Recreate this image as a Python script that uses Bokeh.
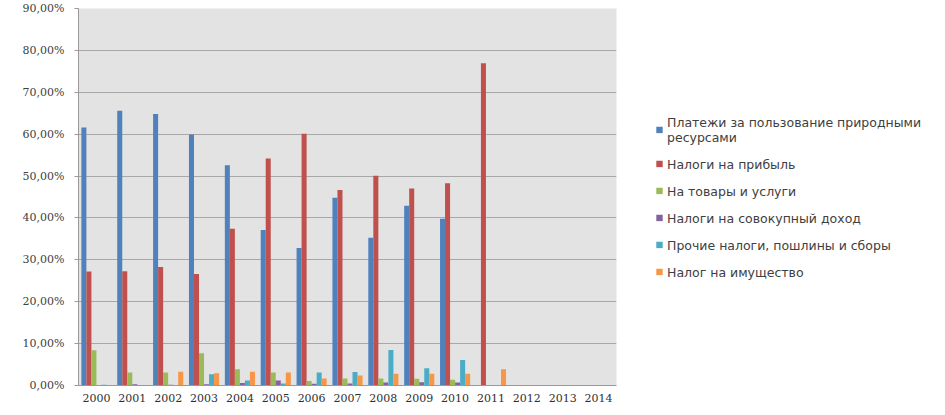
from bokeh.plotting import figure
from bokeh.models import FactorRange, Range1d, FixedTicker, Legend, LegendItem, ColumnDataSource
from bokeh.transform import dodge
from bokeh.embed import file_html
from bokeh.resources import INLINE

years = [str(y) for y in range(2000, 2015)]

series_names = [
    "Платежи за пользование природными\nресурсами",
    "Налоги на прибыль",
    "На товары и услуги",
    "Налоги на совокупный доход",
    "Прочие налоги, пошлины и сборы",
    "Налог на имущество",
]

natural_resources = [61.6, 65.6, 64.8, 59.9, 52.6, 37.1, 32.8, 44.8, 35.3, 42.9, 39.8, 0, 0, 0, 0]
profit_tax = [27.2, 27.3, 28.3, 26.6, 37.4, 54.2, 60.1, 46.7, 50.1, 47.0, 48.3, 76.9, 0, 0, 0]
goods_services = [8.4, 3.1, 3.1, 7.7, 3.9, 3.1, 1.1, 1.7, 1.7, 1.6, 1.4, 0, 0, 0, 0]
aggregate_income = [0.1, 0.3, 0.2, 0.3, 0.6, 1.2, 0.4, 0.5, 0.7, 0.8, 0.7, 0, 0, 0, 0]
other_taxes = [0.2, 0.1, 0.1, 2.7, 1.2, 0.5, 3.1, 3.2, 8.5, 4.1, 6.1, 0, 0, 0, 0]
property_tax = [0.0, 0.0, 3.3, 2.9, 3.3, 3.1, 1.7, 2.4, 2.8, 2.8, 2.8, 3.9, 0, 0, 0]

y_ticks = [0, 10, 20, 30, 40, 50, 60, 70, 80, 90]
y_tick_labels = ["0,00%", "10,00%", "20,00%", "30,00%", "40,00%", "50,00%",
                 "60,00%", "70,00%", "80,00%", "90,00%"]

colors = ["#4F81BD", "#C0504D", "#9BBB59", "#8064A2", "#4BACC6", "#F79646"]

source = ColumnDataSource(dict(
    year=years,
    s0=natural_resources, s1=profit_tax, s2=goods_services,
    s3=aggregate_income, s4=other_taxes, s5=property_tax,
))

p = figure(
    x_range=FactorRange(*years),
    y_range=Range1d(0, 90),
    frame_width=538, frame_height=377,
    min_border_left=78, min_border_right=320, min_border_top=8, min_border_bottom=22,
    output_backend="svg", toolbar_location=None,
)
p.background_fill_color = "#e3e3e3"
p.border_fill_color = "white"
p.outline_line_color = None

bw = 0.14
offsets = [-2.5 * bw, -1.5 * bw, -0.5 * bw, 0.5 * bw, 1.5 * bw, 2.5 * bw]
items = []
for i in range(6):
    r = p.vbar(x=dodge("year", offsets[i], range=p.x_range), top="s%d" % i,
               width=bw, source=source, fill_color=colors[i], line_color=None)
    items.append(LegendItem(label=series_names[i], renderers=[r]))

p.xgrid.grid_line_color = None
p.ygrid.grid_line_color = "#a8a8a8"
p.ygrid.grid_line_width = 1
p.yaxis.ticker = FixedTicker(ticks=y_ticks)
p.yaxis.major_label_overrides = {t: l for t, l in zip(y_ticks, y_tick_labels)}
p.yaxis.minor_tick_line_color = None
p.yaxis.major_tick_out = 4
p.yaxis.major_tick_in = 0
p.yaxis.major_tick_line_color = "#999999"
p.yaxis.axis_line_color = "#999999"
p.yaxis.major_label_text_font = "DejaVu Serif"
p.yaxis.major_label_text_font_size = "11px"
p.yaxis.major_label_text_color = "#404040"
p.yaxis.major_label_standoff = 10

p.xaxis.axis_line_color = "#999999"
p.xaxis.major_tick_line_color = None
p.xaxis.major_label_text_font = "DejaVu Serif"
p.xaxis.major_label_text_font_size = "11px"
p.xaxis.major_label_text_color = "#303030"
p.xaxis.major_label_standoff = 2

legend = Legend(items=items, location="center_left")
legend.label_text_font = "DejaVu Sans"
legend.label_text_font_size = "12.5px"
legend.label_text_line_height = 1.0
legend.label_text_color = "#404040"
legend.glyph_width = 8
legend.glyph_height = 8
legend.label_standoff = 4
legend.label_height = 12
legend.spacing = 12
legend.padding = 0
legend.margin = 39
legend.border_line_color = None
legend.background_fill_alpha = 0
p.add_layout(legend, "right")

open("out.html", "w").write(file_html(p, INLINE))
